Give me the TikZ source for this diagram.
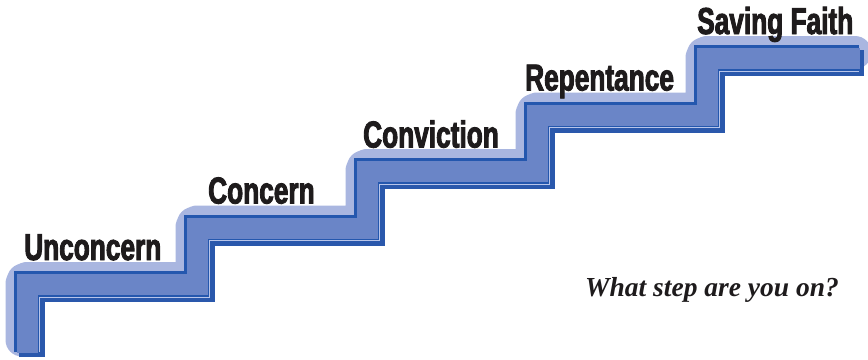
\documentclass[tikz,border=0pt]{standalone}
\usepackage{fontspec}
\newfontfamily\stepfont[FakeStretch=0.70,FakeBold=2.4]{Liberation Sans Bold}
\newfontfamily\askfont{Liberation Serif}
\definecolor{glowc}{HTML}{A9B6E0}
\definecolor{edgec}{HTML}{2457AE}
\definecolor{sidec}{HTML}{2A58AC}
\definecolor{fillc}{HTML}{6A85C7}
\definecolor{hilc}{HTML}{B8C5EA}
\definecolor{inkc}{HTML}{1E1B1C}
\newcommand\stairline{(26.5,352) -- (26.5,284) -- (196.5,284) -- (196.5,227.5) -- (366.5,227.5) -- (366.5,171) -- (536.5,171) -- (536.5,114.5) -- (706.5,114.5) -- (706.5,58) -- (859,58)}
\tikzset{
  glowline/.style={draw=glowc, line width=33pt, rounded corners=5pt, line cap=round, line join=round},
  sideline/.style={draw=sidec, line width=26pt, line join=miter, line cap=butt},
  frontline/.style={draw=edgec, line width=26pt, line join=miter, line cap=butt},
  faceline/.style={draw=fillc, line width=21pt, line join=miter, line cap=butt},
  hiline/.style={draw=hilc, line width=0.9pt, line join=miter},
  steplabel/.style={anchor=base west, inner sep=0pt, text=inkc, font=\stepfont\fontsize{37.5}{37.5}\selectfont},
  asklabel/.style={anchor=base west, inner sep=0pt, text=inkc, font=\askfont\bfseries\itshape\fontsize{27.5}{27.5}\selectfont}
}
\begin{document}
\begin{tikzpicture}[x=1pt,y=-1pt]
\useasboundingbox[fill=white] (0,0) rectangle (868,359);
% glow (upper-left bevel)
\draw[glowline] (22,340) -- (22,278.5) -- (192,278.5) -- (192,222) -- (362,222) -- (362,165.5) -- (532,165.5) -- (532,109) -- (702,109) -- (702,52.5) -- (855,52.5);
% extruded side (lower-right)
\begin{scope}[shift={(5,5)}]
\draw[sideline] \stairline;
\end{scope}
% front face
\draw[frontline] \stairline;
\begin{scope}[shift={(0.8,0.8)}]
\draw[faceline] \stairline;
\end{scope}
% light bevel line along lower-right edge of the face
\draw[hiline] (39.5,352) -- (39.5,297) -- (209.5,297) -- (209.5,240.5) -- (379.5,240.5) -- (379.5,184) -- (549.5,184) -- (549.5,127.5) -- (719.5,127.5) -- (719.5,71) -- (859,71);
% labels
\node[steplabel] (s1) at (24,260) {Unconcern};
\node[steplabel] (s2) at (208,203.5) {Concern};
\node[steplabel] (s3) at (363,147.5) {Conviction};
\node[steplabel] (s4) at (525,90.5) {Repentance};
\node[steplabel] (s5) at (697,34) {Saving Faith};
\node[asklabel] (ask) at (585,296.5) {What step are you on?};
\end{tikzpicture}
\end{document}
